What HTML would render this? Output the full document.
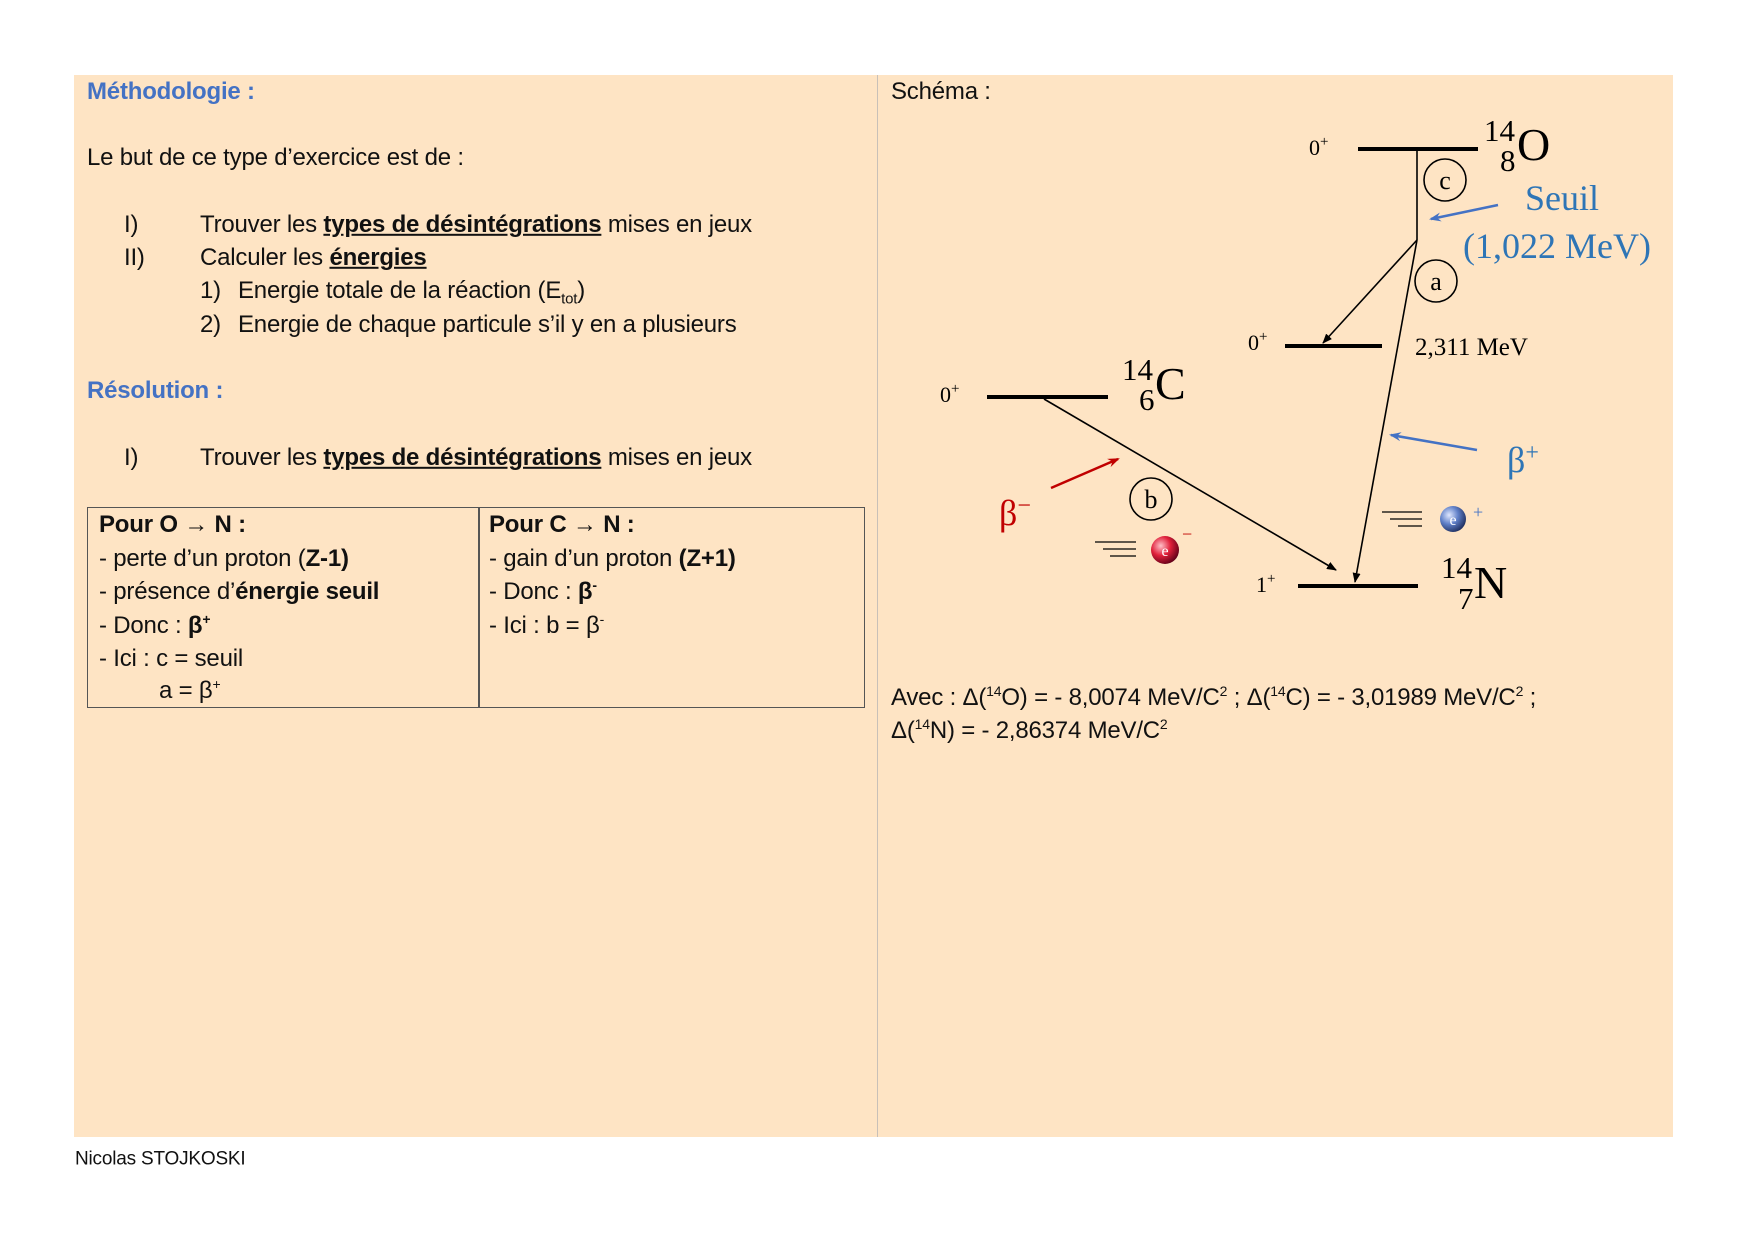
<!DOCTYPE html>
<html><head><meta charset="utf-8"><style>
body{margin:0;width:1753px;height:1240px;background:#fff;position:relative;overflow:hidden;font-family:"Liberation Sans",sans-serif;}
.p{position:absolute;background:#fee4c4;}
.t{position:absolute;font-size:24px;color:#111;white-space:nowrap;line-height:1;transform:translateY(-55%);letter-spacing:-0.2px}
.h{color:#4472c4;font-weight:bold;}
b u,u b{font-weight:bold;}
sup{font-size:14px;vertical-align:9px;line-height:0}
sub{font-size:15px;line-height:0}
</style></head><body>
<div class="p" style="left:74px;top:75px;width:1599px;height:1062px"></div>
<div style="position:absolute;left:877px;top:75px;width:1px;height:1062px;background:#c8c0b8"></div>

<div class="t h" style="left:87px;top:93px">Méthodologie :</div>
<div class="t" style="left:87px;top:159px">Le but de ce type d’exercice est de :</div>
<div class="t" style="left:124px;top:226px">I)</div>
<div class="t" style="left:200px;top:226px">Trouver les <b><u>types de désintégrations</u></b> mises en jeux</div>
<div class="t" style="left:124px;top:259px">II)</div>
<div class="t" style="left:200px;top:259px">Calculer les <b><u>énergies</u></b></div>
<div class="t" style="left:200px;top:292px">1)</div>
<div class="t" style="left:238px;top:292px">Energie totale de la réaction (E<sub>tot</sub>)</div>
<div class="t" style="left:200px;top:326px">2)</div>
<div class="t" style="left:238px;top:326px">Energie de chaque particule s’il y en a plusieurs</div>
<div class="t h" style="left:87px;top:392px">Résolution :</div>
<div class="t" style="left:124px;top:459px">I)</div>
<div class="t" style="left:200px;top:459px">Trouver les <b><u>types de désintégrations</u></b> mises en jeux</div>

<div style="position:absolute;left:87px;top:507px;width:776px;height:199px;border:1.5px solid #555"></div>
<div style="position:absolute;left:478px;top:507px;width:1.5px;height:201px;background:#555"></div>
<div class="t" style="left:99px;top:526px"><b>Pour O → N :</b></div>
<div class="t" style="left:99px;top:560px">- perte d’un proton (<b>Z-1)</b></div>
<div class="t" style="left:99px;top:593px">- présence d’<b>énergie seuil</b></div>
<div class="t" style="left:99px;top:627px">- Donc : <b>β<sup>+</sup></b></div>
<div class="t" style="left:99px;top:660px">- Ici : c = seuil</div>
<div class="t" style="left:159px;top:692px">a = β<sup>+</sup></div>
<div class="t" style="left:489px;top:526px"><b>Pour C → N :</b></div>
<div class="t" style="left:489px;top:560px">- gain d’un proton <b>(Z+1)</b></div>
<div class="t" style="left:489px;top:593px">- Donc : <b>β<sup>-</sup></b></div>
<div class="t" style="left:489px;top:627px">- Ici : b = β<sup>-</sup></div>

<div class="t" style="left:891px;top:93px">Schéma :</div>
<div class="t" style="left:891px;top:699px">Avec : Δ(<sup>14</sup>O) = - 8,0074 MeV/C<sup>2</sup> ; Δ(<sup>14</sup>C) = - 3,01989 MeV/C<sup>2</sup> ;</div>
<div class="t" style="left:891px;top:732px">Δ(<sup>14</sup>N) = - 2,86374 MeV/C<sup>2</sup></div>
<div class="t" style="left:75px;top:1160px;font-size:19px">Nicolas STOJKOSKI</div>

<svg style="position:absolute;left:0;top:0" width="1753" height="1240" font-family="Liberation Serif,serif">
<defs>
<marker id="ak" markerWidth="10" markerHeight="8" refX="9" refY="4" orient="auto" markerUnits="userSpaceOnUse"><path d="M0,0L10,4L0,8z" fill="#000"/></marker>
<marker id="ab" markerWidth="12" markerHeight="9" refX="10" refY="4.5" orient="auto" markerUnits="userSpaceOnUse"><path d="M0,0L12,4.5L0,9L4,4.5z" fill="#4472c4"/></marker>
<marker id="ar" markerWidth="12" markerHeight="9" refX="10" refY="4.5" orient="auto" markerUnits="userSpaceOnUse"><path d="M0,0L12,4.5L0,9L4,4.5z" fill="#c00000"/></marker>
<radialGradient id="gr" cx="0.35" cy="0.35" r="0.7"><stop offset="0" stop-color="#ffc0c8"/><stop offset="0.5" stop-color="#e0203a"/><stop offset="1" stop-color="#600018"/></radialGradient>
<radialGradient id="gb" cx="0.35" cy="0.35" r="0.7"><stop offset="0" stop-color="#e0e8ff"/><stop offset="0.5" stop-color="#6080c8"/><stop offset="1" stop-color="#203060"/></radialGradient>
</defs>
<g stroke="#000" stroke-width="4">
<line x1="1358" y1="149" x2="1478" y2="149"/>
<line x1="1285" y1="346" x2="1382" y2="346"/>
<line x1="987" y1="397" x2="1108" y2="397"/>
<line x1="1298" y1="586" x2="1418" y2="586"/>
</g>
<g stroke="#000" stroke-width="1.6" fill="none">
<line x1="1417" y1="149" x2="1417" y2="240"/>
<line x1="1417" y1="240" x2="1323" y2="343" marker-end="url(#ak)"/>
<line x1="1417" y1="240" x2="1355" y2="582" marker-end="url(#ak)"/>
<line x1="1044" y1="399" x2="1336" y2="570" marker-end="url(#ak)"/>
<circle cx="1445" cy="180" r="21"/>
<circle cx="1436" cy="281" r="21"/>
<circle cx="1151" cy="499" r="21"/>
</g>
<g font-size="26" text-anchor="middle"><text x="1445" y="189">c</text><text x="1436" y="290">a</text><text x="1151" y="508">b</text></g>
<g font-size="22"><text x="1309" y="155">0<tspan font-size="15" dy="-9">+</tspan></text>
<text x="1248" y="350">0<tspan font-size="15" dy="-9">+</tspan></text>
<text x="940" y="402">0<tspan font-size="15" dy="-9">+</tspan></text>
<text x="1256" y="592">1<tspan font-size="15" dy="-9">+</tspan></text></g>
<text x="1415" y="355" font-size="25">2,311 MeV</text>
<g font-size="31"><text x="1484" y="141">14</text><text x="1500" y="171">8</text><text x="1122" y="380">14</text><text x="1139" y="410">6</text><text x="1441" y="578">14</text><text x="1458" y="609">7</text></g>
<g font-size="46"><text x="1517" y="160">O</text><text x="1155" y="399">C</text><text x="1474" y="598">N</text></g>
<g fill="#2e75b6" font-size="36"><text x="1525" y="210">Seuil</text><text x="1463" y="258">(1,022 MeV)</text><text x="1507" y="472">β<tspan font-size="24" dy="-12">+</tspan></text></g>
<text x="999" y="525" fill="#c00000" font-size="36">β<tspan font-size="24" dy="-12">−</tspan></text>
<line x1="1498" y1="205" x2="1431" y2="219" stroke="#4472c4" stroke-width="2.5" marker-end="url(#ab)"/>
<line x1="1477" y1="450" x2="1391" y2="435" stroke="#4472c4" stroke-width="2.5" marker-end="url(#ab)"/>
<line x1="1051" y1="488" x2="1118" y2="459" stroke="#c00000" stroke-width="2.5" marker-end="url(#ar)"/>
<g stroke="#000" stroke-width="1.3"><line x1="1095" y1="542" x2="1136" y2="542"/><line x1="1103" y1="549" x2="1136" y2="549"/><line x1="1110" y1="556" x2="1136" y2="556"/>
<line x1="1382" y1="512" x2="1422" y2="512"/><line x1="1390" y1="519" x2="1422" y2="519"/><line x1="1398" y1="526" x2="1422" y2="526"/></g>
<circle cx="1165" cy="550" r="14" fill="url(#gr)"/><text x="1165" y="556" font-size="16" fill="#fff" text-anchor="middle">e</text>
<text x="1182" y="540" font-size="18" fill="#c00000">−</text>
<circle cx="1453" cy="519" r="13" fill="url(#gb)"/><text x="1453" y="525" font-size="16" fill="#fff" text-anchor="middle">e</text>
<text x="1473" y="518" font-size="18" fill="#4472c4">+</text>
</svg>
</body></html>
